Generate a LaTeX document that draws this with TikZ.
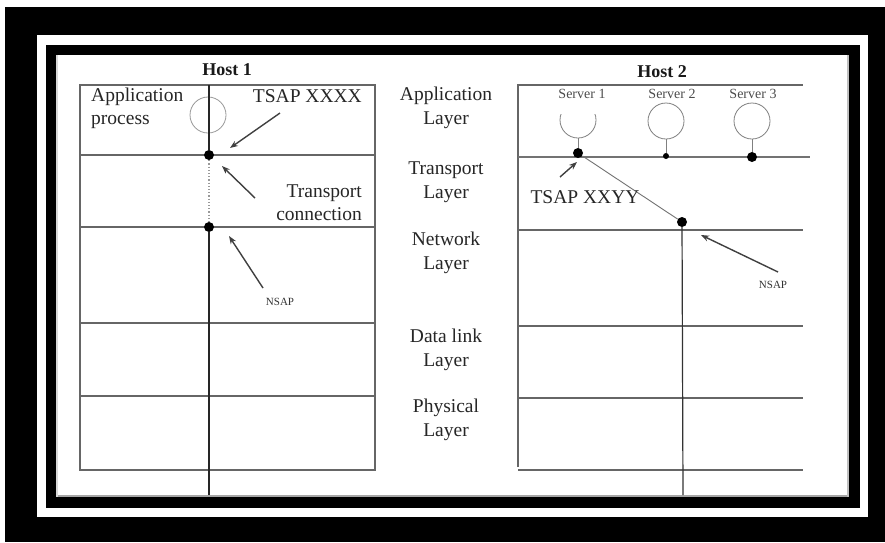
\documentclass[tikz,border=0pt]{standalone}
\usepackage{fontspec}
\setmainfont{Liberation Serif}
\usetikzlibrary{arrows.meta}
\begin{document}
\begin{tikzpicture}[x=1pt,y=-1pt,
 grid/.style={draw=black!60, line width=1.2pt},
 lbl/.style={font=\fontsize{19.5}{24}\selectfont, text=black!85, inner sep=0pt, align=center},
 hostlbl/.style={font=\bfseries\fontsize{18}{20}\selectfont, text=black!90, inner sep=0pt},
 small/.style={font=\fontsize{14}{16}\selectfont, text=black!70, inner sep=0pt},
 tiny/.style={font=\fontsize{11}{12}\selectfont, text=black!80, inner sep=0pt},
 dot/.style={circle, fill=black, inner sep=0pt, minimum size=10pt},
 minidot/.style={circle, fill=black, inner sep=0pt, minimum size=6pt},
 ptr/.style={draw=black!75, line width=1.4pt, -{Stealth[length=8pt,width=6pt]}},
 proc/.style={draw=black!50, line width=0.8pt}]
\useasboundingbox (0,0) rectangle (885,542);
\fill[white] (0,0) rectangle (885,542);
\fill[black] (5,7) rectangle (885,542);
\fill[white] (37,35) rectangle (868,517);
\fill[black] (46,45) rectangle (860,508);
\fill[white] (56,55) rectangle (849,497);
\draw[black!35, line width=2pt] (56,496) -- (849,496);
\draw[black!25, line width=2pt] (848,55) -- (848,497);
\draw[black!15, line width=2pt] (57,55) -- (57,497);

% ---------- Host 1 ----------
\node[hostlbl] (host1) at (227,70) {Host 1};
\draw[grid] (80,85) rectangle (375,470);
\foreach \yy in {155,227,323,396} \draw[grid] (80,\yy) -- (375,\yy);
\node[circle, draw=black!40, line width=0.8pt, minimum size=36pt, inner sep=0pt] (ap1) at (208,115) {};
\coordinate (h1top) at (209,85);
\node[dot] (t1) at (209,155) {};
\node[dot] (n1) at (209,227) {};
\coordinate (h1bot) at (209,495);
\draw[black!85, line width=1.2pt] (h1top) -- (t1);
\draw[black!40, line width=1.2pt, dotted] (t1) -- (n1);
\draw[black!85, line width=1.2pt] (n1) -- (h1bot);

\node[lbl, align=left, anchor=west, font=\fontsize{19.5}{23}\selectfont] (apname) at (91,108) {Application\\process};
\node[lbl, anchor=east] (tsap1) at (362,96) {TSAP XXXX};
\coordinate (a1s) at (280,113); \coordinate (a1e) at (230,148);
\draw[ptr] (a1s) -- (a1e);
\node[lbl, align=right, anchor=east, font=\fontsize{19.5}{23}\selectfont] (tconn) at (362,203) {Transport\\connection};
\coordinate (a2s) at (255,198); \coordinate (a2e) at (222,166);
\draw[ptr] (a2s) -- (a2e);
\node[tiny] (nsap1) at (280,302) {NSAP};
\coordinate (a3s) at (263,288); \coordinate (a3e) at (229,236);
\draw[ptr] (a3s) -- (a3e);

% ---------- Layer names ----------
\node[lbl] (Lapp) at (446,108) {Application\\Layer};
\node[lbl] (Ltra) at (446,182) {Transport\\Layer};
\node[lbl] (Lnet) at (446,253) {Network\\Layer};
\node[lbl] (Ldl) at (446,350) {Data link\\Layer};
\node[lbl] (Lphy) at (446,420) {Physical\\Layer};

% ---------- Host 2 ----------
\node[hostlbl] (host2) at (662,72) {Host 2};
\draw[grid] (518,467) -- (518,85) -- (803,85);
\draw[black!55, line width=2.5pt] (518,157) -- (810,157);
\foreach \yy in {230,326,398,470} \draw[grid] (518,\yy) -- (803,\yy);

\node[small] (sv1) at (582,94) {Server 1};
\node[small] (sv2) at (672,94) {Server 2};
\node[small] (sv3) at (753,94) {Server 3};

\begin{scope}
\clip (555,114) rectangle (602,145);
\draw[proc] (578,120) circle[radius=18pt];
\end{scope}
\coordinate (c1b) at (578,138);
\node[circle, draw=black!50, line width=0.8pt, minimum size=36pt, inner sep=0pt] (c2) at (666,121) {};
\node[circle, draw=black!50, line width=0.8pt, minimum size=36pt, inner sep=0pt] (c3) at (752,121) {};

\node[dot] (s1) at (578,153) {};
\node[minidot] (s2) at (666,156) {};
\node[dot] (s3) at (752,157) {};
\draw[proc] (c1b) -- (s1);
\draw[proc] (c2.south) -- (s2);
\draw[proc] (c3.south) -- (s3);

\node[dot] (n2) at (682,222) {};
\coordinate (h2bot) at (683,495);
\draw[black!55, line width=0.9pt] (s1) -- (n2);
\draw[black!80, line width=1.2pt] (n2) -- (h2bot);

\node[lbl] (tsap2) at (585,197) {TSAP XXYY};
\coordinate (b1s) at (560,177); \coordinate (b1e) at (577,162);
\draw[ptr] (b1s) -- (b1e);

\node[tiny] (nsap2) at (773,285) {NSAP};
\coordinate (b2s) at (778,272); \coordinate (b2e) at (701,235);
\draw[ptr] (b2s) -- (b2e);
\end{tikzpicture}
\end{document}
